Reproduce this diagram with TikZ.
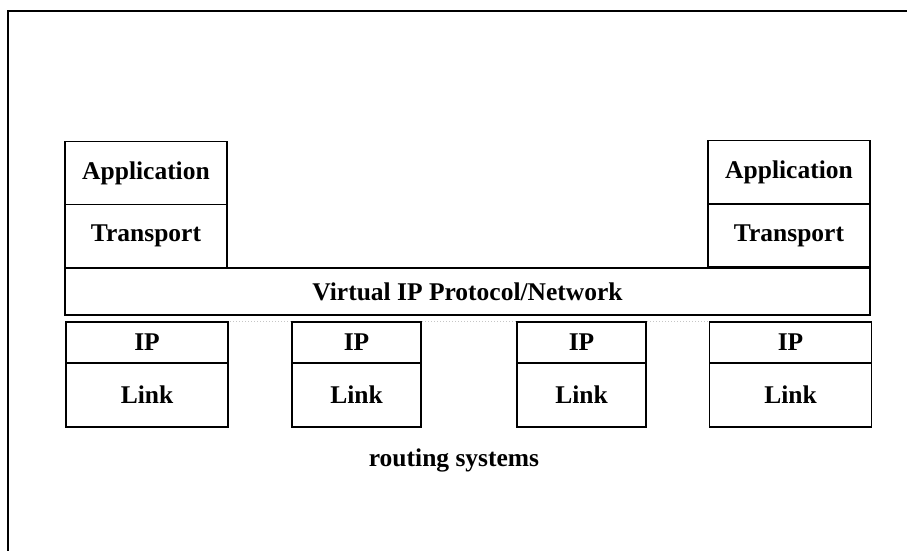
\documentclass[tikz,border=0pt]{standalone}
\usepackage{fontspec}
\setmainfont{Liberation Serif}
\begin{document}
\begin{tikzpicture}[x=1pt,y=-1pt,
        layer/.style={draw, line width=1.5pt, inner sep=0pt, outer sep=0pt,
            font=\fontsize{25.5}{30}\selectfont\bfseries},
        wide/.style={layer, minimum width=162pt},
        narrow/.style={layer, minimum width=129pt}]
        \useasboundingbox (0,0) rectangle (907,551);

        % Frame
        \draw[line width=1.5pt] (907,11) -- (8,11) -- (8,551);

        % End host on the left
        \node[wide, minimum height=63pt] (appL) at (146,173) {Application};
        \node[wide, minimum height=63pt] (trL) at (146,236) {Transport};

        % End host on the right
        \node[wide, minimum height=63pt] (appR) at (789,172) {Application};
        \node[wide, minimum height=63pt] (trR) at (789,235.5) {Transport};

        % Virtual network band
        \node[layer, minimum width=805pt, minimum height=47pt] (vip) at (467.5,291.5) {Virtual IP Protocol/Network};
        \draw[gray!45, dotted, line width=1pt] (vip.south west) ++(0,6) -- ++(805,0);

        % IP and link layers
        \node[wide, minimum height=41pt] (ip1) at (147,342.5) {IP};
        \node[wide, minimum height=64pt] (link1) at (147,395) {Link};
        \node[narrow, minimum height=41pt] (ip2) at (356.5,342.5) {IP};
        \node[narrow, minimum height=64pt] (link2) at (356.5,395) {Link};
        \node[narrow, minimum height=41pt] (ip3) at (581.5,342.5) {IP};
        \node[narrow, minimum height=64pt] (link3) at (581.5,395) {Link};
        \node[wide, minimum height=41pt] (ip4) at (790.5,342.5) {IP};
        \node[wide, minimum height=64pt] (link4) at (790.5,395) {Link};

        % Label under the routers
        \node[font=\fontsize{25.5}{30}\selectfont\bfseries] (rsys) at (454,460) {routing systems};
    \end{tikzpicture}
\end{document}
